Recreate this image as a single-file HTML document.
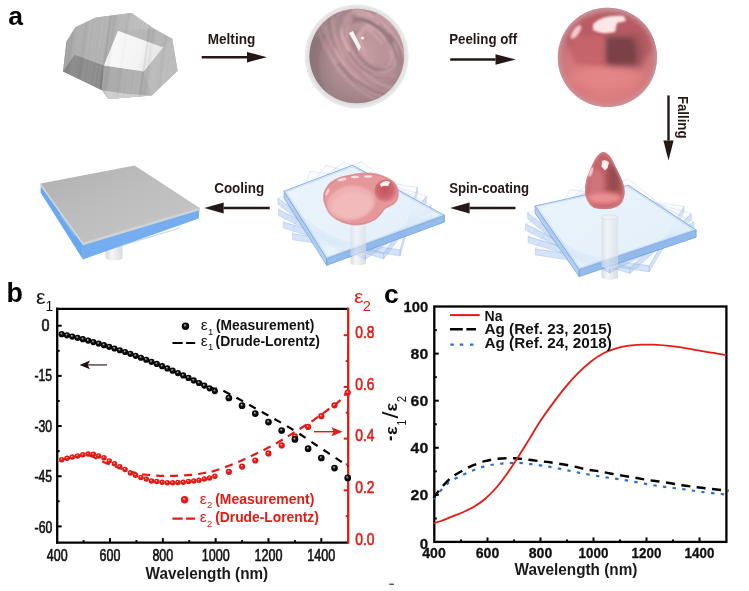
<!DOCTYPE html>
<html><head><meta charset="utf-8"><title>Figure</title>
<style>html,body{margin:0;padding:0;background:#fff;}svg{display:block;}</style>
</head><body>
<svg width="749" height="591" viewBox="0 0 749 591" font-family="'Liberation Sans', Arial, sans-serif">
<defs><pattern id="streak" width="40" height="60" patternUnits="userSpaceOnUse" patternTransform="rotate(8)">
<rect x="0.00" width="1.54" height="60" fill="#ffffff" fill-opacity="0.087"/>
<rect x="1.95" width="2.98" height="60" fill="#ffffff" fill-opacity="0.084"/>
<rect x="5.35" width="2.07" height="60" fill="#ffffff" fill-opacity="0.050"/>
<rect x="8.65" width="1.30" height="60" fill="#000000" fill-opacity="0.047"/>
<rect x="11.49" width="3.35" height="60" fill="#ffffff" fill-opacity="0.109"/>
<rect x="16.01" width="3.43" height="60" fill="#ffffff" fill-opacity="0.107"/>
<rect x="20.03" width="1.82" height="60" fill="#ffffff" fill-opacity="0.109"/>
<rect x="23.38" width="2.58" height="60" fill="#ffffff" fill-opacity="0.110"/>
<rect x="27.66" width="1.68" height="60" fill="#ffffff" fill-opacity="0.108"/>
<rect x="31.01" width="2.04" height="60" fill="#000000" fill-opacity="0.133"/>
<rect x="34.37" width="3.28" height="60" fill="#000000" fill-opacity="0.076"/>
<rect x="39.70" width="2.63" height="60" fill="#ffffff" fill-opacity="0.050"/>
</pattern>
<filter id="b1" x="-20%" y="-20%" width="140%" height="140%"><feGaussianBlur stdDeviation="1"/></filter>
<filter id="b2" x="-30%" y="-30%" width="160%" height="160%"><feGaussianBlur stdDeviation="2.2"/></filter>
<filter id="b3" x="-40%" y="-40%" width="180%" height="180%"><feGaussianBlur stdDeviation="3.5"/></filter>
<filter id="b05"><feGaussianBlur stdDeviation="0.5"/></filter>
<linearGradient id="topG" x1="0" y1="0" x2="1" y2="0">
  <stop offset="0" stop-color="#a9a9a9"/><stop offset="0.6" stop-color="#b4b4b4"/><stop offset="1" stop-color="#c0c0c0"/>
</linearGradient>
<linearGradient id="frontG" x1="0" y1="0" x2="1" y2="0">
  <stop offset="0" stop-color="#a6a6a6"/><stop offset="1" stop-color="#b2b2b2"/>
</linearGradient>
<linearGradient id="whiteFace" x1="0" y1="0" x2="1" y2="0.3">
  <stop offset="0" stop-color="#fbfbfb"/><stop offset="0.7" stop-color="#f3f3f3"/><stop offset="1" stop-color="#e6e6e6"/>
</linearGradient>
<radialGradient id="ringG" cx="0.5" cy="0.5" r="0.5">
  <stop offset="0.88" stop-color="#d4d4d4"/><stop offset="0.94" stop-color="#e2e2e2"/><stop offset="1" stop-color="#ececec"/>
</radialGradient>
<radialGradient id="mauveG" cx="0.6" cy="0.45" r="0.65">
  <stop offset="0" stop-color="#c89ea3"/><stop offset="0.5" stop-color="#b59195"/><stop offset="0.85" stop-color="#a08387"/><stop offset="1" stop-color="#978084"/>
</radialGradient>
<radialGradient id="pinkBase" cx="0.5" cy="0.62" r="0.6">
  <stop offset="0" stop-color="#e6878a"/><stop offset="0.55" stop-color="#da7b7f"/><stop offset="0.85" stop-color="#c8747a"/><stop offset="1" stop-color="#bf8086"/>
</radialGradient>
<clipPath id="clipPink"><circle cx="607.4" cy="57.4" r="49.6"/></clipPath>
<linearGradient id="mauveShade" x1="0" y1="0" x2="1" y2="0.3">
  <stop offset="0" stop-color="#7d666a" stop-opacity="0.45"/><stop offset="0.45" stop-color="#7d666a" stop-opacity="0"/><stop offset="1" stop-color="#7d666a" stop-opacity="0.1"/>
</linearGradient>
<clipPath id="clipMauve"><circle cx="356.8" cy="56" r="47.3"/></clipPath>
<linearGradient id="pillarG" x1="0" y1="0" x2="1" y2="0">
  <stop offset="0" stop-color="#d7dadd"/><stop offset="0.35" stop-color="#f5f6f7"/><stop offset="1" stop-color="#d9dcdf"/>
</linearGradient>
<linearGradient id="grayTop" x1="0" y1="0" x2="1" y2="1">
  <stop offset="0" stop-color="#b0b0b0"/><stop offset="0.45" stop-color="#bdbdbd"/><stop offset="1" stop-color="#c8c8c8"/>
</linearGradient>
<linearGradient id="plateTop" x1="0" y1="0" x2="1" y2="1">
  <stop offset="0" stop-color="#eaf4fc"/><stop offset="1" stop-color="#dfedf9"/>
</linearGradient>
<radialGradient id="blobG" cx="0.42" cy="0.6" r="0.6">
  <stop offset="0" stop-color="#f3b9b9"/><stop offset="0.6" stop-color="#eda9aa"/><stop offset="1" stop-color="#dc8e92"/>
</radialGradient>
<radialGradient id="smallSph" cx="0.45" cy="0.45" r="0.55">
  <stop offset="0" stop-color="#c2525a"/><stop offset="0.65" stop-color="#d06870"/><stop offset="1" stop-color="#e19096"/>
</radialGradient>
<clipPath id="clipDrop"><path d="M603.40,152.10 C604.97,152.10 606.72,153.38 608.10,154.50 C609.48,155.62 610.52,156.83 611.70,158.80 C612.88,160.77 614.02,163.87 615.20,166.30 C616.38,168.73 617.62,170.95 618.80,173.40 C619.98,175.85 621.35,178.23 622.30,181.00 C623.25,183.77 624.23,187.28 624.50,190.00 C624.77,192.72 624.58,194.92 623.90,197.30 C623.22,199.68 622.30,202.47 620.40,204.30 C618.50,206.13 615.30,207.52 612.50,208.30 C609.70,209.08 606.47,209.00 603.60,209.00 C600.73,209.00 597.57,209.07 595.30,208.30 C593.03,207.53 591.57,206.23 590.00,204.40 C588.43,202.57 586.72,199.70 585.90,197.30 C585.08,194.90 585.05,192.80 585.10,190.00 C585.15,187.20 585.62,183.27 586.20,180.50 C586.78,177.73 587.70,175.77 588.60,173.40 C589.50,171.03 590.52,168.67 591.60,166.30 C592.68,163.93 593.92,161.17 595.10,159.20 C596.28,157.23 597.32,155.68 598.70,154.50 C600.08,153.32 601.83,152.10 603.40,152.10 Z"/></clipPath>

<radialGradient id="ballK" cx="0.5" cy="0.5" r="0.5" fx="0.4" fy="0.34"><stop offset="0" stop-color="#cfcfcf"/><stop offset="0.2" stop-color="#7a7a7a"/><stop offset="0.42" stop-color="#111"/><stop offset="1" stop-color="#000"/></radialGradient>
<radialGradient id="ballR" cx="0.5" cy="0.5" r="0.5" fx="0.4" fy="0.34"><stop offset="0" stop-color="#fbe0de"/><stop offset="0.2" stop-color="#f07a72"/><stop offset="0.44" stop-color="#e41a14"/><stop offset="1" stop-color="#dc1812"/></radialGradient>
</defs>
<rect width="749" height="591" fill="#fff"/>
<text x="8.3" y="25.2" font-size="26.5" font-weight="bold" fill="#000">a</text>
<g><polygon points="75.40,27.20 95.90,17.40 131.40,13.00 154.50,29.00 172.20,38.70 177.60,70.70 151.80,95.60 108.30,99.10 102.00,90.30 63.00,71.60 66.50,41.40" fill="#b2b2b2"/>
<polygon points="75.40,27.20 95.90,17.40 131.40,13.00 154.50,29.00 118.00,30.80 103.80,65.40 74.50,54.70 63.00,71.60 66.50,41.40" fill="url(#topG)"/>
<polygon points="63.00,71.60 74.50,54.70 103.80,65.40 102.00,90.30" fill="#898989"/>
<polygon points="103.80,65.40 143.80,71.60 151.80,95.60 108.30,99.10 102.00,90.30" fill="url(#frontG)"/>
<polygon points="143.80,71.60 163.30,47.60 172.20,38.70 177.60,70.70 151.80,95.60" fill="#b9b9b9"/>
<polygon points="118.00,30.80 154.50,29.00 172.20,38.70 163.30,47.60" fill="#b4b4b4"/>
<polygon points="102.00,90.30 108.30,99.10 151.80,95.60 128.00,94.00" fill="#cdcdcd"/>
<polygon points="118.00,30.80 163.30,47.60 143.80,71.60 103.80,65.40" fill="url(#whiteFace)"/>
<polygon points="75.40,27.20 95.90,17.40 131.40,13.00 154.50,29.00 172.20,38.70 177.60,70.70 151.80,95.60 108.30,99.10 102.00,90.30 63.00,71.60 66.50,41.40" fill="url(#streak)" opacity="0.55"/></g>
<circle cx="356.7" cy="56.4" r="52" fill="url(#ringG)"/>
<circle cx="356.8" cy="56" r="47.3" fill="url(#mauveG)"/>
<g clip-path="url(#clipMauve)"><g filter="url(#b1)">
<path d="M312,40 C305,60 310,85 330,100 C318,80 316,60 325,35 Z" fill="#8c7478" opacity="0.6"/>
<path d="M403.6,37.3 A48.9,31.1 50 0 1 386.3,88.4" fill="none" stroke="#c79aa0" stroke-width="1.9" opacity="0.71"/>
<path d="M342.1,71.6 A61.1,39.3 50 0 1 325.1,41.0" fill="none" stroke="#d09ea5" stroke-width="1.2" opacity="0.69"/>
<path d="M361.6,22.3 A27.8,16.3 50 0 1 373.0,25.8" fill="none" stroke="#d09ea5" stroke-width="1.6" opacity="0.57"/>
<path d="M401.2,27.6 A62.6,34.3 50 0 1 418.0,60.0" fill="none" stroke="#9e8086" stroke-width="1.9" opacity="0.55"/>
<path d="M367.3,54.6 A14.1,9.4 50 0 1 361.0,45.3" fill="none" stroke="#d09ea5" stroke-width="2.2" opacity="0.62"/>
<path d="M380.2,0.3 A67.8,39.7 50 0 1 415.7,40.2" fill="none" stroke="#c79aa0" stroke-width="1.3" opacity="0.89"/>
<path d="M346.1,27.9 A35.5,16.1 50 0 1 377.7,28.6" fill="none" stroke="#917479" stroke-width="1.1" opacity="0.62"/>
<path d="M373.4,17.5 A47.8,21.5 50 0 1 402.0,53.0" fill="none" stroke="#917479" stroke-width="1.5" opacity="0.62"/>
<path d="M335.0,8.9 A53.0,26.3 50 0 1 355.1,2.9" fill="none" stroke="#917479" stroke-width="2.4" opacity="0.51"/>
<path d="M404.5,91.3 A56.0,37.0 50 0 1 338.1,62.4" fill="none" stroke="#917479" stroke-width="1.5" opacity="0.84"/>
<path d="M367.2,13.4 A39.4,24.7 50 0 1 403.3,64.6" fill="none" stroke="#dcb0b6" stroke-width="2.1" opacity="0.87"/>
<path d="M324.1,32.9 A66.8,35.8 50 0 1 340.8,-9.9" fill="none" stroke="#e3bcc1" stroke-width="1.2" opacity="0.80"/>
<path d="M401.9,95.5 A58.6,39.0 50 0 1 327.6,46.3" fill="none" stroke="#dcb0b6" stroke-width="1.3" opacity="0.71"/>
<path d="M355.8,52.4 A34.3,16.7 50 0 1 351.3,18.8" fill="none" stroke="#dcb0b6" stroke-width="1.4" opacity="0.63"/>
<path d="M374.2,62.7 A23.9,11.2 50 0 1 354.8,37.0" fill="none" stroke="#e3bcc1" stroke-width="1.2" opacity="0.52"/>
<path d="M317.8,16.4 A69.3,40.4 50 0 1 337.1,-12.0" fill="none" stroke="#9e8086" stroke-width="1.5" opacity="0.60"/>
<path d="M406.6,82.2 A50.5,24.5 50 0 1 363.2,72.1" fill="none" stroke="#e3bcc1" stroke-width="1.5" opacity="0.58"/>
<path d="M378.6,100.9 A69.0,40.8 50 0 1 318.0,13.8" fill="none" stroke="#e3bcc1" stroke-width="1.1" opacity="0.67"/>
<path d="M357.1,50.4 A22.4,14.8 50 0 1 356.3,30.3" fill="none" stroke="#9e8086" stroke-width="2.2" opacity="0.89"/>
<path d="M385.9,27.8 A39.4,22.5 50 0 1 402.5,65.3" fill="none" stroke="#917479" stroke-width="1.7" opacity="0.86"/>
<path d="M361.2,29.1 A20.3,13.3 50 0 1 373.1,30.2" fill="none" stroke="#e3bcc1" stroke-width="2.2" opacity="0.57"/>
<path d="M352.0,11.0 A41.5,24.0 50 0 1 389.3,29.2" fill="none" stroke="#dcb0b6" stroke-width="2.1" opacity="0.81"/>
<path d="M399.0,27.5 A52.9,32.6 50 0 1 413.7,72.3" fill="none" stroke="#c79aa0" stroke-width="1.9" opacity="0.83"/>
<path d="M383.1,28.7 A28.8,20.0 50 0 1 389.3,69.0" fill="none" stroke="#917479" stroke-width="1.9" opacity="0.73"/>
<path d="M365.4,51.5 A14.6,8.6 50 0 1 361.9,35.4" fill="none" stroke="#e3bcc1" stroke-width="1.4" opacity="0.70"/>
<path d="M345.9,57.8 A51.7,27.9 50 0 1 333.0,17.0" fill="none" stroke="#e3bcc1" stroke-width="1.5" opacity="0.84"/>
<path d="M416.3,89.8 A62.7,39.0 50 0 1 336.8,64.2" fill="none" stroke="#9e8086" stroke-width="1.2" opacity="0.89"/>
<path d="M390.1,50.8 A25.1,13.6 50 0 1 388.1,65.2" fill="none" stroke="#dcb0b6" stroke-width="2.0" opacity="0.79"/>
<path d="M364.4,25.4 A23.6,15.2 50 0 1 388.6,43.8" fill="none" stroke="#e3bcc1" stroke-width="1.4" opacity="0.72"/>
<path d="M412.8,93.4 A62.6,32.4 50 0 1 383.5,94.9" fill="none" stroke="#9e8086" stroke-width="1.6" opacity="0.76"/>
<path d="M369.7,24.6 A26.3,16.3 50 0 1 381.5,32.3" fill="none" stroke="#e3bcc1" stroke-width="2.4" opacity="0.57"/>
<path d="M416.9,90.1 A63.9,30.5 50 0 1 374.7,89.1" fill="none" stroke="#9e8086" stroke-width="1.0" opacity="0.69"/>
<path d="M361.6,15.8 A35.3,21.3 50 0 1 384.8,28.5" fill="none" stroke="#917479" stroke-width="1.0" opacity="0.66"/>
<path d="M378.0,70.0 A29.6,16.4 50 0 1 349.5,36.2" fill="none" stroke="#917479" stroke-width="2.4" opacity="0.72"/>
<path d="M353.2,21.6 A30.9,16.2 50 0 1 390.6,44.6" fill="none" stroke="#917479" stroke-width="2.3" opacity="0.83"/>
<path d="M371.5,15.8 A37.5,24.5 50 0 1 398.1,41.5" fill="none" stroke="#d09ea5" stroke-width="1.2" opacity="0.65"/>
<path d="M378.0,76.6 A40.7,20.3 50 0 1 358.7,61.7" fill="none" stroke="#c79aa0" stroke-width="1.0" opacity="0.54"/>
<path d="M374.3,81.9 A45.7,27.6 50 0 1 336.8,36.4" fill="none" stroke="#9e8086" stroke-width="1.5" opacity="0.67"/>
<path d="M390.7,64.6 A26.7,13.9 50 0 1 374.7,65.9" fill="none" stroke="#d09ea5" stroke-width="1.8" opacity="0.60"/>
<path d="M318.4,13.3 A68.9,39.6 50 0 1 344.7,-12.6" fill="none" stroke="#917479" stroke-width="1.7" opacity="0.61"/>
<path d="M363.5,14.8 A40.7,19.6 50 0 1 394.8,44.4" fill="none" stroke="#917479" stroke-width="1.1" opacity="0.55"/>
<path d="M356.3,15.5 A36.0,20.5 50 0 1 379.4,24.6" fill="none" stroke="#e3bcc1" stroke-width="2.1" opacity="0.60"/>
<path d="M391.4,67.5 A29.0,14.2 50 0 1 375.9,67.4" fill="none" stroke="#9e8086" stroke-width="2.4" opacity="0.71"/>
<path d="M423.3,67.3 A62.4,41.8 50 0 1 415.4,90.4" fill="none" stroke="#d09ea5" stroke-width="1.4" opacity="0.71"/>
<path d="M353.7,19.2 A32.8,17.2 50 0 1 380.5,29.9" fill="none" stroke="#917479" stroke-width="2.0" opacity="0.83"/>
<path d="M361.4,28.5 A21.4,9.7 50 0 1 382.5,44.0" fill="none" stroke="#dcb0b6" stroke-width="2.2" opacity="0.72"/>
<path d="M360.2,38.5 A14.8,9.5 50 0 1 371.5,34.0" fill="none" stroke="#c79aa0" stroke-width="2.3" opacity="0.76"/>
<path d="M327.8,3.0 A62.1,41.0 50 0 1 392.7,8.8" fill="none" stroke="#c79aa0" stroke-width="1.3" opacity="0.62"/>
<path d="M410.6,54.4 A60.5,28.2 50 0 1 397.1,95.5" fill="none" stroke="#e3bcc1" stroke-width="1.8" opacity="0.76"/>
<path d="M371.1,73.5 A40.5,21.4 50 0 1 341.3,28.4" fill="none" stroke="#e3bcc1" stroke-width="2.4" opacity="0.72"/>
<path d="M390.1,77.9 A37.8,22.1 50 0 1 349.0,51.6" fill="none" stroke="#917479" stroke-width="2.1" opacity="0.82"/>
<path d="M384.0,24.5 A51.2,23.3 50 0 1 401.9,87.0" fill="none" stroke="#e3bcc1" stroke-width="2.0" opacity="0.52"/>
<path d="M366.8,1.7 A61.2,30.9 50 0 1 417.2,82.4" fill="none" stroke="#c79aa0" stroke-width="2.3" opacity="0.90"/>
<path d="M365.1,80.3 A53.5,29.9 50 0 1 338.4,49.5" fill="none" stroke="#d09ea5" stroke-width="1.1" opacity="0.59"/>
<path d="M392.4,27.2 A45.1,27.7 50 0 1 407.9,61.5" fill="none" stroke="#9e8086" stroke-width="1.8" opacity="0.80"/>
<path d="M325.3,10.2 A63.2,30.6 50 0 1 348.9,-5.7" fill="none" stroke="#9e8086" stroke-width="1.7" opacity="0.64"/>
<path d="M372.9,88.0 A50.7,34.4 50 0 1 338.8,58.6" fill="none" stroke="#9e8086" stroke-width="1.9" opacity="0.70"/>
<path d="M361.9,-7.0 A65.0,38.3 50 0 1 404.5,25.5" fill="none" stroke="#9e8086" stroke-width="1.3" opacity="0.83"/>
<path d="M393.7,41.7 A29.9,20.7 50 0 1 380.7,72.5" fill="none" stroke="#e3bcc1" stroke-width="2.0" opacity="0.57"/>
<path d="M388.9,92.4 A53.9,33.1 50 0 1 334.7,48.5" fill="none" stroke="#dcb0b6" stroke-width="2.2" opacity="0.70"/>
<path d="M343.5,19.9 A39.4,21.6 50 0 1 390.1,34.1" fill="none" stroke="#dcb0b6" stroke-width="2.1" opacity="0.51"/>
<path d="M376.7,83.6 A54.6,25.3 50 0 1 332.4,12.0" fill="none" stroke="#c79aa0" stroke-width="2.1" opacity="0.80"/>
<path d="M359.5,32.1 A18.7,12.7 50 0 1 370.1,30.0" fill="none" stroke="#c79aa0" stroke-width="1.9" opacity="0.64"/>
<path d="M366.1,24.2 A27.2,14.5 50 0 1 385.6,40.0" fill="none" stroke="#e3bcc1" stroke-width="1.5" opacity="0.79"/>
<path d="M367.2,19.9 A34.1,17.8 50 0 1 397.7,64.5" fill="none" stroke="#917479" stroke-width="1.7" opacity="0.74"/>
<path d="M334.8,29.5 A46.1,29.3 50 0 1 342.4,10.6" fill="none" stroke="#dcb0b6" stroke-width="1.3" opacity="0.58"/>
<path d="M376.3,13.7 A41.4,28.4 50 0 1 403.2,43.5" fill="none" stroke="#e3bcc1" stroke-width="1.7" opacity="0.86"/>
<path d="M337.0,13.3 A48.7,27.1 50 0 1 352.7,4.8" fill="none" stroke="#d09ea5" stroke-width="1.9" opacity="0.53"/>
<path d="M326.4,4.0 A62.7,41.8 50 0 1 382.5,0.4" fill="none" stroke="#dcb0b6" stroke-width="1.4" opacity="0.56"/>
<path d="M351.5,24.2 A30.1,15.3 50 0 1 359.8,21.0" fill="none" stroke="#917479" stroke-width="1.4" opacity="0.52"/>
<path d="M383.0,48.3 A15.2,8.6 50 0 1 382.9,56.3" fill="none" stroke="#c79aa0" stroke-width="1.5" opacity="0.68"/>
<path d="M386.2,69.1 A27.4,19.2 50 0 1 354.7,54.8" fill="none" stroke="#9e8086" stroke-width="1.3" opacity="0.53"/>
<path d="M342.0,39.9 A36.5,25.3 50 0 1 350.7,16.5" fill="none" stroke="#e3bcc1" stroke-width="1.5" opacity="0.53"/>
<path d="M409.1,29.6 A69.6,39.5 50 0 1 426.0,73.7" fill="none" stroke="#d09ea5" stroke-width="2.3" opacity="0.76"/>
<path d="M395.7,75.8 A38.1,26.4 50 0 1 379.3,79.5" fill="none" stroke="#c79aa0" stroke-width="1.6" opacity="0.52"/>
<path d="M346.3,9.6 A44.7,31.2 50 0 1 381.4,13.3" fill="none" stroke="#dcb0b6" stroke-width="2.0" opacity="0.59"/>
<path d="M330.9,4.8 A59.0,27.9 50 0 1 382.3,16.5" fill="none" stroke="#c79aa0" stroke-width="1.1" opacity="0.66"/>
<path d="M358.9,38.0 A17.4,8.9 50 0 1 364.1,31.5" fill="none" stroke="#dcb0b6" stroke-width="2.2" opacity="0.88"/>
<path d="M371.0,26.2 A24.9,15.5 50 0 1 385.4,37.9" fill="none" stroke="#d09ea5" stroke-width="1.1" opacity="0.63"/>
<path d="M387.6,55.9 A20.0,11.7 50 0 1 373.5,61.7" fill="none" stroke="#c79aa0" stroke-width="1.3" opacity="0.51"/>
<path d="M354.8,8.4 A44.2,25.3 50 0 1 389.3,27.3" fill="none" stroke="#c79aa0" stroke-width="1.2" opacity="0.50"/>
<path d="M417.0,65.3 A56.3,35.1 50 0 1 358.5,81.4" fill="none" stroke="#9e8086" stroke-width="1.2" opacity="0.62"/>
<path d="M385.6,45.0 A18.9,12.2 50 0 1 385.6,58.9" fill="none" stroke="#d09ea5" stroke-width="1.8" opacity="0.69"/>
<path d="M410.7,81.3 A53.0,34.5 50 0 1 357.6,79.8" fill="none" stroke="#917479" stroke-width="1.1" opacity="0.78"/>
<path d="M363.4,48.4 A16.7,8.3 50 0 1 359.9,35.4" fill="none" stroke="#dcb0b6" stroke-width="1.1" opacity="0.81"/>
<path d="M394.7,73.0 A35.3,22.7 50 0 1 371.8,73.9" fill="none" stroke="#d09ea5" stroke-width="1.8" opacity="0.68"/>
<path d="M416.7,83.3 A59.7,36.7 50 0 1 357.2,82.6" fill="none" stroke="#c79aa0" stroke-width="1.6" opacity="0.54"/>
<path d="M331.5,46.6 A59.1,34.9 50 0 1 330.0,5.2" fill="none" stroke="#d09ea5" stroke-width="1.4" opacity="0.77"/>
<path d="M384.3,39.0 A30.0,14.0 50 0 1 392.9,67.0" fill="none" stroke="#dcb0b6" stroke-width="1.2" opacity="0.89"/>
<path d="M344.2,65.3 A60.3,33.7 50 0 1 343.8,-4.7" fill="none" stroke="#dcb0b6" stroke-width="1.3" opacity="0.67"/>
</g>
<circle cx="356.8" cy="56" r="47.3" fill="url(#mauveShade)"/>
<path d="M349,33 l4,-2 l8,16 l-2,4 z" fill="#f4f4f4" filter="url(#b05)"/>
<circle cx="362.5" cy="38" r="1.5" fill="#f4f4f4"/>
</g>
<circle cx="607.4" cy="57.4" r="49.6" fill="url(#pinkBase)"/>
<g clip-path="url(#clipPink)">
<ellipse cx="612" cy="38" rx="46" ry="27" fill="#b5575e" opacity="0.8" filter="url(#b3)"/>
<rect x="572" y="36" width="36" height="29" rx="8" fill="#c7656a" opacity="0.9" filter="url(#b2)"/>
<path d="M606,35 L638,34 Q648,50 642,68 L606,66 Z" fill="#9a525a" filter="url(#b3)"/>
<path d="M607,38 L632,38 Q639,52 634,64 L607,63 Z" fill="#7c3f46" filter="url(#b2)"/>
<ellipse cx="604" cy="79" rx="38" ry="9" fill="#e48688" opacity="0.7" filter="url(#b3)"/>
<circle cx="607.4" cy="57.4" r="50.5" fill="none" stroke="#cc9ca0" stroke-width="8" opacity="0.7" filter="url(#b2)"/>
<path d="M593,24 Q603,14 624,16 L626,21 L617,23 L615,32 Q602,35 593,30 Z" fill="#fbe7e8" filter="url(#b1)"/>
<ellipse cx="576" cy="32" rx="3.2" ry="8" transform="rotate(35 576 32)" fill="#f3c9cb" filter="url(#b1)"/>
</g>
<path d="M105.7,245.0 V258.0 A8.4,2.5 0 0 0 122.5,258.0 V245.0 Z" fill="url(#pillarG)" opacity="1.00"/><ellipse cx="114.1" cy="245.0" rx="8.4" ry="2.5" fill="#eef0f1" stroke="#c4c8cc" stroke-width="0.6" opacity="1.00"/>
<polygon points="40.70,183.60 82.90,242.50 82.90,259.40 40.70,192.80" fill="#69a7ee"/>
<polygon points="82.90,242.50 199.50,207.70 198.80,218.50 82.90,259.40" fill="#74aef0"/>
<path d="M60,214 L75,236" stroke="#9cc3f0" stroke-width="1.5" opacity="0.7"/>
<path d="M120,246 L180,228" stroke="#8fbdf0" stroke-width="1.2" opacity="0.6"/>
<polygon points="40.70,183.60 82.90,242.50 82.90,245.30 40.70,186.20" fill="#d8d8d8"/>
<polygon points="82.90,242.50 199.50,207.70 199.50,210.30 82.90,245.30" fill="#d2d2d2"/>
<polygon points="40.70,183.60 134.60,165.60 199.50,207.70 82.90,242.50" fill="url(#grayTop)"/>
<path d="M350.5,222.0 V263.0 A7.8,2.5 0 0 0 366.0,263.0 V222.0 Z" fill="url(#pillarG)" opacity="1.00"/><ellipse cx="358.2" cy="222.0" rx="7.8" ry="2.5" fill="#eef0f1" stroke="#c4c8cc" stroke-width="0.6" opacity="1.00"/>
<polygon points="417.37,187.37 400.11,249.97 400.11,255.97 417.37,193.37" fill="#a0c2ee" fill-opacity="0.45" stroke="#8ab0e3" stroke-opacity="0.5" stroke-width="0.6"/>
<polygon points="292.43,233.78 400.11,249.97 400.11,255.97 292.43,239.78" fill="#a0c2ee" fill-opacity="0.45" stroke="#8ab0e3" stroke-opacity="0.5" stroke-width="0.6"/>
<polygon points="292.43,233.78 309.69,171.18 417.37,187.37 400.11,249.97" fill="#eaf2fb" fill-opacity="0.2" stroke="#a3c2e8" stroke-opacity="0.45" stroke-width="0.7"/>
<polygon points="426.45,196.09 383.65,252.92 383.65,258.92 426.45,202.09" fill="#a0c2ee" fill-opacity="0.45" stroke="#8ab0e3" stroke-opacity="0.5" stroke-width="0.6"/>
<polygon points="283.35,222.06 383.65,252.92 383.65,258.92 283.35,228.06" fill="#a0c2ee" fill-opacity="0.45" stroke="#8ab0e3" stroke-opacity="0.5" stroke-width="0.6"/>
<polygon points="283.35,222.06 326.15,165.23 426.45,196.09 383.65,252.92" fill="#eaf2fb" fill-opacity="0.2" stroke="#a3c2e8" stroke-opacity="0.45" stroke-width="0.7"/>
<polygon points="431.28,205.58 365.49,253.26 365.49,259.26 431.28,211.58" fill="#a0c2ee" fill-opacity="0.45" stroke="#8ab0e3" stroke-opacity="0.5" stroke-width="0.6"/>
<polygon points="278.52,209.57 365.49,253.26 365.49,259.26 278.52,215.57" fill="#a0c2ee" fill-opacity="0.45" stroke="#8ab0e3" stroke-opacity="0.5" stroke-width="0.6"/>
<polygon points="278.52,209.57 344.31,161.89 431.28,205.58 365.49,253.26" fill="#eaf2fb" fill-opacity="0.2" stroke="#a3c2e8" stroke-opacity="0.45" stroke-width="0.7"/>
<polygon points="431.71,214.91 348.03,251.54 348.03,257.54 431.71,220.91" fill="#a0c2ee" fill-opacity="0.45" stroke="#8ab0e3" stroke-opacity="0.5" stroke-width="0.6"/>
<polygon points="278.09,198.24 348.03,251.54 348.03,257.54 278.09,204.24" fill="#a0c2ee" fill-opacity="0.45" stroke="#8ab0e3" stroke-opacity="0.5" stroke-width="0.6"/>
<polygon points="278.09,198.24 361.77,161.61 431.71,214.91 348.03,251.54" fill="#eaf2fb" fill-opacity="0.2" stroke="#a3c2e8" stroke-opacity="0.45" stroke-width="0.7"/>
<polygon points="284.10,191.20 326.70,258.50 326.70,265.30 284.10,198.00" fill="#aecbef" fill-opacity="0.92" stroke="#7fa8de" stroke-width="0.8"/>
<polygon points="326.70,258.50 444.40,215.30 444.40,222.10 326.70,265.30" fill="#8db8ea" fill-opacity="0.95" stroke="#6f9edb" stroke-width="0.8"/>
<polygon points="284.10,191.20 352.40,165.30 444.40,215.30 326.70,258.50" fill="url(#plateTop)" fill-opacity="0.85" stroke="#8fb4e2" stroke-width="1.1"/>
<polygon points="286.47,191.77 352.38,166.78 441.16,215.03 327.58,256.72" fill="none" stroke="#b7d0ee" stroke-width="0.7" opacity="0.8"/>
<path d="M350.5,222.0 V255.0 A7.8,2.5 0 0 0 366.0,255.0 V222.0 Z" fill="url(#pillarG)" opacity="0.60"/><ellipse cx="358.2" cy="222.0" rx="7.8" ry="2.5" fill="#eef0f1" stroke="#c4c8cc" stroke-width="0.6" opacity="0.60"/>
<path d="M324.00,195.00 C324.60,191.38 326.90,187.00 329.40,184.20 C331.90,181.40 335.40,179.70 339.00,178.20 C342.60,176.70 346.58,176.00 351.00,175.20 C355.42,174.40 361.08,173.50 365.50,173.40 C369.92,173.30 373.90,173.80 377.50,174.60 C381.10,175.40 384.30,176.80 387.10,178.20 C389.90,179.60 392.50,180.80 394.30,183.00 C396.10,185.20 397.50,188.58 397.90,191.40 C398.30,194.22 397.70,197.68 396.70,199.90 C395.70,202.12 393.90,203.30 391.90,204.70 C389.90,206.10 386.50,206.90 384.70,208.30 C382.90,209.70 382.70,211.30 381.10,213.10 C379.50,214.90 377.70,217.40 375.10,219.10 C372.50,220.80 369.10,222.40 365.50,223.30 C361.90,224.20 357.52,224.80 353.50,224.50 C349.48,224.20 345.02,223.00 341.40,221.50 C337.78,220.00 334.40,218.10 331.80,215.50 C329.20,212.90 327.10,209.32 325.80,205.90 C324.50,202.48 323.40,198.62 324.00,195.00 Z" fill="#e5979a"/>
<path d="M324.00,195.00 C324.60,191.38 326.90,187.00 329.40,184.20 C331.90,181.40 335.40,179.70 339.00,178.20 C342.60,176.70 346.58,176.00 351.00,175.20 C355.42,174.40 361.08,173.50 365.50,173.40 C369.92,173.30 373.90,173.80 377.50,174.60 C381.10,175.40 384.30,176.80 387.10,178.20 C389.90,179.60 392.50,180.80 394.30,183.00 C396.10,185.20 397.50,188.58 397.90,191.40 C398.30,194.22 397.70,197.68 396.70,199.90 C395.70,202.12 393.90,203.30 391.90,204.70 C389.90,206.10 386.50,206.90 384.70,208.30 C382.90,209.70 382.70,211.30 381.10,213.10 C379.50,214.90 377.70,217.40 375.10,219.10 C372.50,220.80 369.10,222.40 365.50,223.30 C361.90,224.20 357.52,224.80 353.50,224.50 C349.48,224.20 345.02,223.00 341.40,221.50 C337.78,220.00 334.40,218.10 331.80,215.50 C329.20,212.90 327.10,209.32 325.80,205.90 C324.50,202.48 323.40,198.62 324.00,195.00 Z" fill="none" stroke="#d98489" stroke-width="1.6" opacity="0.8"/>
<ellipse cx="351" cy="203" rx="24" ry="17" transform="rotate(-8 351 203)" fill="#efb1b3" filter="url(#b1)"/>
<ellipse cx="352" cy="205" rx="20" ry="13" transform="rotate(-8 352 205)" fill="#f2baba" filter="url(#b1)"/>
<circle cx="386" cy="191" r="11.5" fill="url(#smallSph)"/>
<path d="M380,184 Q385,179 390,182 L388,186 Q384,185 381,187 Z" fill="#fff" opacity="0.9" filter="url(#b05)"/>
<ellipse cx="342" cy="179.5" rx="4.5" ry="1.3" transform="rotate(-12 342 179.5)" fill="#fff" opacity="0.75" filter="url(#b05)"/>
<ellipse cx="355" cy="177" rx="4" ry="1.2" fill="#fff" opacity="0.7" filter="url(#b05)"/>
<ellipse cx="368" cy="176.5" rx="4" ry="1.3" fill="#fff" opacity="0.7" filter="url(#b05)"/>
<ellipse cx="327.5" cy="192" rx="1.2" ry="4" transform="rotate(25 327.5 192)" fill="#fff" opacity="0.6" filter="url(#b05)"/>
<path d="M601.4,217.3 V277.3 A8.4,2.5 0 0 0 618.2,277.3 V217.3 Z" fill="url(#pillarG)" opacity="1.00"/><ellipse cx="609.8" cy="217.3" rx="8.4" ry="2.5" fill="#eef0f1" stroke="#c4c8cc" stroke-width="0.6" opacity="1.00"/>
<polygon points="683.97,206.43 649.18,265.89 649.18,271.89 683.97,212.43" fill="#a0c2ee" fill-opacity="0.45" stroke="#8ab0e3" stroke-opacity="0.5" stroke-width="0.6"/>
<polygon points="535.33,248.92 649.18,265.89 649.18,271.89 535.33,254.92" fill="#a0c2ee" fill-opacity="0.45" stroke="#8ab0e3" stroke-opacity="0.5" stroke-width="0.6"/>
<polygon points="535.33,248.92 570.12,189.46 683.97,206.43 649.18,265.89" fill="#eaf2fb" fill-opacity="0.2" stroke="#a3c2e8" stroke-opacity="0.45" stroke-width="0.7"/>
<polygon points="691.32,213.80 630.02,267.40 630.02,273.40 691.32,219.80" fill="#a0c2ee" fill-opacity="0.45" stroke="#8ab0e3" stroke-opacity="0.5" stroke-width="0.6"/>
<polygon points="527.98,236.55 630.02,267.40 630.02,273.40 527.98,242.55" fill="#a0c2ee" fill-opacity="0.45" stroke="#8ab0e3" stroke-opacity="0.5" stroke-width="0.6"/>
<polygon points="527.98,236.55 589.28,182.95 691.32,213.80 630.02,267.40" fill="#eaf2fb" fill-opacity="0.2" stroke="#a3c2e8" stroke-opacity="0.45" stroke-width="0.7"/>
<polygon points="693.82,222.36 609.66,266.90 609.66,272.90 693.82,228.36" fill="#a0c2ee" fill-opacity="0.45" stroke="#8ab0e3" stroke-opacity="0.5" stroke-width="0.6"/>
<polygon points="525.48,223.99 609.66,266.90 609.66,272.90 525.48,229.99" fill="#a0c2ee" fill-opacity="0.45" stroke="#8ab0e3" stroke-opacity="0.5" stroke-width="0.6"/>
<polygon points="525.48,223.99 609.64,179.45 693.82,222.36 609.66,266.90" fill="#eaf2fb" fill-opacity="0.2" stroke="#a3c2e8" stroke-opacity="0.45" stroke-width="0.7"/>
<polygon points="691.67,230.71 590.73,264.46 590.73,270.46 691.67,236.71" fill="#a0c2ee" fill-opacity="0.45" stroke="#8ab0e3" stroke-opacity="0.5" stroke-width="0.6"/>
<polygon points="527.63,212.64 590.73,264.46 590.73,270.46 527.63,218.64" fill="#a0c2ee" fill-opacity="0.45" stroke="#8ab0e3" stroke-opacity="0.5" stroke-width="0.6"/>
<polygon points="527.63,212.64 628.57,178.89 691.67,230.71 590.73,264.46" fill="#eaf2fb" fill-opacity="0.2" stroke="#a3c2e8" stroke-opacity="0.45" stroke-width="0.7"/>
<polygon points="535.10,206.00 579.10,269.40 579.10,276.60 535.10,213.20" fill="#aecbef" fill-opacity="0.92" stroke="#7fa8de" stroke-width="0.8"/>
<polygon points="579.10,269.40 696.10,230.00 696.10,237.20 579.10,276.60" fill="#8db8ea" fill-opacity="0.95" stroke="#6f9edb" stroke-width="0.8"/>
<polygon points="535.10,206.00 628.30,185.30 696.10,230.00 579.10,269.40" fill="url(#plateTop)" fill-opacity="0.85" stroke="#8fb4e2" stroke-width="1.1"/>
<polygon points="537.71,206.58 627.65,186.61 693.07,229.74 580.17,267.76" fill="none" stroke="#b7d0ee" stroke-width="0.7" opacity="0.8"/>
<path d="M601.4,217.3 V266.0 A8.4,2.5 0 0 0 618.2,266.0 V217.3 Z" fill="url(#pillarG)" opacity="0.60"/><ellipse cx="609.8" cy="217.3" rx="8.4" ry="2.5" fill="#eef0f1" stroke="#c4c8cc" stroke-width="0.6" opacity="0.60"/>
<path d="M603.40,152.10 C604.97,152.10 606.72,153.38 608.10,154.50 C609.48,155.62 610.52,156.83 611.70,158.80 C612.88,160.77 614.02,163.87 615.20,166.30 C616.38,168.73 617.62,170.95 618.80,173.40 C619.98,175.85 621.35,178.23 622.30,181.00 C623.25,183.77 624.23,187.28 624.50,190.00 C624.77,192.72 624.58,194.92 623.90,197.30 C623.22,199.68 622.30,202.47 620.40,204.30 C618.50,206.13 615.30,207.52 612.50,208.30 C609.70,209.08 606.47,209.00 603.60,209.00 C600.73,209.00 597.57,209.07 595.30,208.30 C593.03,207.53 591.57,206.23 590.00,204.40 C588.43,202.57 586.72,199.70 585.90,197.30 C585.08,194.90 585.05,192.80 585.10,190.00 C585.15,187.20 585.62,183.27 586.20,180.50 C586.78,177.73 587.70,175.77 588.60,173.40 C589.50,171.03 590.52,168.67 591.60,166.30 C592.68,163.93 593.92,161.17 595.10,159.20 C596.28,157.23 597.32,155.68 598.70,154.50 C600.08,153.32 601.83,152.10 603.40,152.10 Z" fill="#c5646a"/>
<g clip-path="url(#clipDrop)">
<rect x="606.5" y="164" width="14" height="30" rx="5" fill="#95484f" filter="url(#b3)"/>
<ellipse cx="596" cy="183" rx="8" ry="13" fill="#d0737a" filter="url(#b2)"/>
<ellipse cx="604" cy="198" rx="17" ry="5.5" fill="#ec8f92" filter="url(#b2)"/>
<path d="M603.40,152.10 C604.97,152.10 606.72,153.38 608.10,154.50 C609.48,155.62 610.52,156.83 611.70,158.80 C612.88,160.77 614.02,163.87 615.20,166.30 C616.38,168.73 617.62,170.95 618.80,173.40 C619.98,175.85 621.35,178.23 622.30,181.00 C623.25,183.77 624.23,187.28 624.50,190.00 C624.77,192.72 624.58,194.92 623.90,197.30 C623.22,199.68 622.30,202.47 620.40,204.30 C618.50,206.13 615.30,207.52 612.50,208.30 C609.70,209.08 606.47,209.00 603.60,209.00 C600.73,209.00 597.57,209.07 595.30,208.30 C593.03,207.53 591.57,206.23 590.00,204.40 C588.43,202.57 586.72,199.70 585.90,197.30 C585.08,194.90 585.05,192.80 585.10,190.00 C585.15,187.20 585.62,183.27 586.20,180.50 C586.78,177.73 587.70,175.77 588.60,173.40 C589.50,171.03 590.52,168.67 591.60,166.30 C592.68,163.93 593.92,161.17 595.10,159.20 C596.28,157.23 597.32,155.68 598.70,154.50 C600.08,153.32 601.83,152.10 603.40,152.10 Z" fill="none" stroke="#d79a9e" stroke-width="3" opacity="0.6" filter="url(#b1)"/>
<path d="M602,161 Q605.5,159 609,162.5 L607.5,168 L605,170.5 L601.5,166.5 Z" fill="#fff0f0" filter="url(#b05)"/>
<ellipse cx="591" cy="172" rx="1.6" ry="5" transform="rotate(20 591 172)" fill="#f5c8ca" filter="url(#b05)"/>
</g>
<text x="207.80" y="43.80" font-size="14.00" font-weight="bold" fill="#231815" textLength="47.40" lengthAdjust="spacingAndGlyphs">Melting</text>
<path d="M201.70,57.20 H247.00" stroke="#231815" stroke-width="2.40"/><polygon points="247.00,51.95 266.90,57.20 247.00,62.45" fill="#231815"/>
<text x="449.20" y="43.80" font-size="14.00" font-weight="bold" fill="#231815" textLength="68.00" lengthAdjust="spacingAndGlyphs">Peeling off</text>
<path d="M450.20,59.50 H495.50" stroke="#231815" stroke-width="2.40"/><polygon points="495.50,54.25 515.70,59.50 495.50,64.75" fill="#231815"/>
<path d="M668.50,95.40 V140.60" stroke="#231815" stroke-width="2.40"/><polygon points="663.40,140.60 668.50,160.40 673.60,140.60" fill="#231815"/>
<g transform="translate(678.3,95.9) rotate(90)"><text x="0.00" y="0.00" font-size="14.00" font-weight="bold" fill="#231815" textLength="42.60" lengthAdjust="spacingAndGlyphs">Falling</text></g>
<text x="449.20" y="192.80" font-size="14.00" font-weight="bold" fill="#231815" textLength="80.00" lengthAdjust="spacingAndGlyphs">Spin-coating</text>
<path d="M515.40,208.00 H469.60" stroke="#231815" stroke-width="2.40"/><polygon points="469.60,202.50 450.00,208.00 469.60,213.50" fill="#231815"/>
<text x="214.20" y="193.00" font-size="14.00" font-weight="bold" fill="#231815" textLength="50.00" lengthAdjust="spacingAndGlyphs">Cooling</text>
<path d="M269.80,208.00 H223.70" stroke="#231815" stroke-width="2.40"/><polygon points="223.70,202.60 204.30,208.00 223.70,213.40" fill="#231815"/>
<text x="6.4" y="301.6" font-size="26.8" font-weight="bold" fill="#000">b</text>
<text x="384.0" y="302.8" font-size="26.5" font-weight="bold" fill="#000">c</text>
<g stroke-width="2.3" fill="none">
<path d="M56.1,308.8 H348.2" stroke="#000"/>
<path d="M56.1,542.6 H348.2" stroke="#000"/>
<path d="M57.2,307.7 V543.7" stroke="#000"/>
<path d="M348.2,307.7 V543.7" stroke="#e41a14"/>
</g>
<g stroke="#000" stroke-width="2">
<path d="M57.2,325.70 h4.5"/>
<path d="M57.2,350.79 h2.5"/>
<path d="M57.2,375.88 h4.5"/>
<path d="M57.2,400.96 h2.5"/>
<path d="M57.2,426.05 h4.5"/>
<path d="M57.2,451.14 h2.5"/>
<path d="M57.2,476.23 h4.5"/>
<path d="M57.2,501.31 h2.5"/>
<path d="M57.2,526.40 h4.5"/>
<path d="M83.61,542.6 v-2.5"/>
<path d="M110.02,542.6 v-4.5"/>
<path d="M136.43,542.6 v-2.5"/>
<path d="M162.84,542.6 v-4.5"/>
<path d="M189.25,542.6 v-2.5"/>
<path d="M215.66,542.6 v-4.5"/>
<path d="M242.07,542.6 v-2.5"/>
<path d="M268.48,542.6 v-4.5"/>
<path d="M294.89,542.6 v-2.5"/>
<path d="M321.30,542.6 v-4.5"/>
</g>
<g stroke="#e41a14" stroke-width="2">
<path d="M348.2,516.15 h-2.5"/>
<path d="M348.2,490.30 h-4.5"/>
<path d="M348.2,464.45 h-2.5"/>
<path d="M348.2,438.60 h-4.5"/>
<path d="M348.2,412.75 h-2.5"/>
<path d="M348.2,386.90 h-4.5"/>
<path d="M348.2,361.05 h-2.5"/>
<path d="M348.2,335.20 h-4.5"/>
</g>
<text x="41.60" y="331.10" font-size="15.60" font-weight="normal" text-anchor="start" fill="#111" textLength="8.0" lengthAdjust="spacingAndGlyphs" stroke="#111" stroke-width="0.6">0</text>
<text x="34.40" y="381.27" font-size="15.60" font-weight="normal" text-anchor="start" fill="#111" textLength="17.6" lengthAdjust="spacingAndGlyphs" stroke="#111" stroke-width="0.6">-15</text>
<text x="34.40" y="432.25" font-size="15.60" font-weight="normal" text-anchor="start" fill="#111" textLength="17.6" lengthAdjust="spacingAndGlyphs" stroke="#111" stroke-width="0.6">-30</text>
<text x="34.40" y="482.43" font-size="15.60" font-weight="normal" text-anchor="start" fill="#111" textLength="17.6" lengthAdjust="spacingAndGlyphs" stroke="#111" stroke-width="0.6">-45</text>
<text x="34.60" y="532.60" font-size="15.60" font-weight="normal" text-anchor="start" fill="#111" textLength="17.8" lengthAdjust="spacingAndGlyphs" stroke="#111" stroke-width="0.6">-60</text>
<text x="355.30" y="544.70" font-size="16.20" font-weight="normal" text-anchor="start" fill="#e41a14" textLength="19.2" lengthAdjust="spacingAndGlyphs" stroke="#e41a14" stroke-width="0.6">0.0</text>
<text x="355.30" y="493.00" font-size="16.20" font-weight="normal" text-anchor="start" fill="#e41a14" textLength="19.2" lengthAdjust="spacingAndGlyphs" stroke="#e41a14" stroke-width="0.6">0.2</text>
<text x="355.30" y="441.30" font-size="16.20" font-weight="normal" text-anchor="start" fill="#e41a14" textLength="19.2" lengthAdjust="spacingAndGlyphs" stroke="#e41a14" stroke-width="0.6">0.4</text>
<text x="355.30" y="389.60" font-size="16.20" font-weight="normal" text-anchor="start" fill="#e41a14" textLength="19.2" lengthAdjust="spacingAndGlyphs" stroke="#e41a14" stroke-width="0.6">0.6</text>
<text x="355.30" y="337.90" font-size="16.20" font-weight="normal" text-anchor="start" fill="#e41a14" textLength="19.2" lengthAdjust="spacingAndGlyphs" stroke="#e41a14" stroke-width="0.6">0.8</text>
<text x="57.20" y="560.90" font-size="15.60" font-weight="normal" text-anchor="middle" fill="#111" textLength="20.8" lengthAdjust="spacingAndGlyphs" stroke="#111" stroke-width="0.6">400</text>
<text x="110.02" y="560.90" font-size="15.60" font-weight="normal" text-anchor="middle" fill="#111" textLength="20.8" lengthAdjust="spacingAndGlyphs" stroke="#111" stroke-width="0.6">600</text>
<text x="162.84" y="560.90" font-size="15.60" font-weight="normal" text-anchor="middle" fill="#111" textLength="20.8" lengthAdjust="spacingAndGlyphs" stroke="#111" stroke-width="0.6">800</text>
<text x="215.66" y="560.90" font-size="15.60" font-weight="normal" text-anchor="middle" fill="#111" textLength="28.0" lengthAdjust="spacingAndGlyphs" stroke="#111" stroke-width="0.6">1000</text>
<text x="268.48" y="560.90" font-size="15.60" font-weight="normal" text-anchor="middle" fill="#111" textLength="28.0" lengthAdjust="spacingAndGlyphs" stroke="#111" stroke-width="0.6">1200</text>
<text x="321.30" y="560.90" font-size="15.60" font-weight="normal" text-anchor="middle" fill="#111" textLength="28.0" lengthAdjust="spacingAndGlyphs" stroke="#111" stroke-width="0.6">1400</text>
<text x="145.60" y="578.70" font-size="16.00" font-weight="bold" text-anchor="start" fill="#1a1a1a" textLength="122.6" lengthAdjust="spacingAndGlyphs">Wavelength (nm)</text>
<text x="35.90" y="303.80" font-size="19.50" font-weight="normal" text-anchor="start" fill="#111" textLength="9.6" lengthAdjust="spacingAndGlyphs">&#949;</text>
<text x="45.50" y="311.20" font-size="14.00" font-weight="normal" text-anchor="start" fill="#111">1</text>
<text x="353.90" y="303.00" font-size="18.50" font-weight="normal" text-anchor="start" fill="#e41a14" textLength="9.4" lengthAdjust="spacingAndGlyphs">&#949;</text>
<text x="362.80" y="311.20" font-size="14.50" font-weight="normal" text-anchor="start" fill="#e41a14">2</text>
<path d="M59.84,333.73 C60.72,333.93 63.36,334.50 65.12,334.90 C66.88,335.30 68.64,335.71 70.41,336.12 C72.17,336.54 73.93,336.96 75.69,337.40 C77.45,337.83 79.21,338.28 80.97,338.73 C82.73,339.18 84.49,339.65 86.25,340.12 C88.01,340.59 89.77,341.07 91.53,341.56 C93.29,342.05 95.05,342.55 96.81,343.06 C98.58,343.57 100.34,344.09 102.10,344.62 C103.86,345.14 105.62,345.68 107.38,346.22 C109.14,346.77 110.90,347.33 112.66,347.89 C114.42,348.45 116.18,349.03 117.94,349.61 C119.70,350.19 121.46,350.79 123.23,351.39 C124.99,351.99 126.75,352.60 128.51,353.22 C130.27,353.84 132.03,354.47 133.79,355.11 C135.55,355.75 137.31,356.39 139.07,357.05 C140.83,357.71 142.59,358.37 144.35,359.05 C146.11,359.72 147.87,360.41 149.63,361.10 C151.40,361.80 153.16,362.50 154.92,363.21 C156.68,363.92 158.44,364.65 160.20,365.38 C161.96,366.11 163.72,366.85 165.48,367.60 C167.24,368.35 169.00,369.10 170.76,369.87 C172.52,370.64 174.28,371.42 176.05,372.20 C177.81,372.99 179.57,373.79 181.33,374.59 C183.09,375.40 184.85,376.24 186.61,377.03 C188.37,377.82 190.13,378.59 191.89,379.33 C193.65,380.07 195.41,380.76 197.17,381.48 C198.93,382.21 200.69,382.95 202.45,383.69 C204.22,384.44 205.98,385.19 207.74,385.96 C209.50,386.72 210.98,387.72 213.02,388.28 C215.06,388.84 216.60,388.00 220.00,389.30 C223.40,390.60 228.92,393.73 233.40,396.10 C237.88,398.47 242.47,401.03 246.90,403.50 C251.33,405.97 255.63,408.45 260.00,410.90 C264.37,413.35 268.88,415.82 273.10,418.20 C277.32,420.58 281.17,422.77 285.30,425.20 C289.43,427.63 293.70,430.13 297.90,432.80 C302.10,435.47 306.22,438.33 310.50,441.20 C314.78,444.07 319.23,447.10 323.60,450.00 C327.97,452.90 332.60,455.88 336.70,458.60 C340.80,461.32 346.28,465.02 348.20,466.30" fill="none" stroke="#000" stroke-width="2.2" stroke-dasharray="7.5,7"/>
<path d="M62.00,459.70 C63.82,459.28 69.30,457.93 72.90,457.20 C76.50,456.47 80.42,455.43 83.60,455.30 C86.78,455.17 89.27,455.52 92.00,456.40 C94.73,457.28 97.33,459.37 100.00,460.60 C102.67,461.83 105.00,462.67 108.00,463.80 C111.00,464.93 114.00,466.03 118.00,467.40 C122.00,468.77 127.67,470.82 132.00,472.00 C136.33,473.18 139.33,473.87 144.00,474.50 C148.67,475.13 154.83,475.58 160.00,475.80 C165.17,476.02 169.83,475.95 175.00,475.80 C180.17,475.65 186.17,475.37 191.00,474.90 C195.83,474.43 200.22,473.63 204.00,473.00 C207.78,472.37 208.65,472.67 213.70,471.10 C218.75,469.53 228.45,465.93 234.30,463.60 C240.15,461.27 244.05,459.27 248.80,457.10 C253.55,454.93 258.28,452.85 262.80,450.60 C267.32,448.35 271.53,446.10 275.90,443.60 C280.27,441.10 284.78,438.20 289.00,435.60 C293.22,433.00 296.98,430.67 301.20,428.00 C305.42,425.33 310.03,422.50 314.30,419.60 C318.57,416.70 322.53,413.77 326.80,410.60 C331.07,407.43 336.33,403.98 339.90,400.60 C343.47,397.22 346.82,392.02 348.20,390.30" fill="none" stroke="#e41a14" stroke-width="2.2" stroke-dasharray="8,6"/>
<circle cx="61.69" cy="459.70" r="2.75" fill="url(#ballR)"/>
<circle cx="66.97" cy="458.20" r="2.75" fill="url(#ballR)"/>
<circle cx="72.25" cy="457.00" r="2.75" fill="url(#ballR)"/>
<circle cx="77.54" cy="455.90" r="2.75" fill="url(#ballR)"/>
<circle cx="82.82" cy="454.80" r="2.75" fill="url(#ballR)"/>
<circle cx="88.10" cy="454.10" r="2.75" fill="url(#ballR)"/>
<circle cx="93.38" cy="454.30" r="2.75" fill="url(#ballR)"/>
<circle cx="98.66" cy="455.90" r="2.75" fill="url(#ballR)"/>
<circle cx="103.95" cy="457.70" r="2.75" fill="url(#ballR)"/>
<circle cx="109.23" cy="460.90" r="2.75" fill="url(#ballR)"/>
<circle cx="114.51" cy="463.80" r="2.75" fill="url(#ballR)"/>
<circle cx="119.79" cy="466.80" r="2.75" fill="url(#ballR)"/>
<circle cx="125.07" cy="469.50" r="2.75" fill="url(#ballR)"/>
<circle cx="130.36" cy="472.90" r="2.75" fill="url(#ballR)"/>
<circle cx="135.64" cy="475.20" r="2.75" fill="url(#ballR)"/>
<circle cx="140.92" cy="477.40" r="2.75" fill="url(#ballR)"/>
<circle cx="146.20" cy="479.00" r="2.75" fill="url(#ballR)"/>
<circle cx="151.48" cy="480.90" r="2.75" fill="url(#ballR)"/>
<circle cx="156.77" cy="481.50" r="2.75" fill="url(#ballR)"/>
<circle cx="162.05" cy="482.20" r="2.75" fill="url(#ballR)"/>
<circle cx="167.33" cy="482.70" r="2.75" fill="url(#ballR)"/>
<circle cx="172.61" cy="482.70" r="2.75" fill="url(#ballR)"/>
<circle cx="177.89" cy="482.40" r="2.75" fill="url(#ballR)"/>
<circle cx="183.18" cy="482.20" r="2.75" fill="url(#ballR)"/>
<circle cx="188.46" cy="481.50" r="2.75" fill="url(#ballR)"/>
<circle cx="193.74" cy="480.90" r="2.75" fill="url(#ballR)"/>
<circle cx="199.02" cy="480.20" r="2.75" fill="url(#ballR)"/>
<circle cx="204.30" cy="479.00" r="2.75" fill="url(#ballR)"/>
<circle cx="209.59" cy="477.90" r="2.75" fill="url(#ballR)"/>
<circle cx="214.87" cy="476.30" r="2.75" fill="url(#ballR)"/>
<circle cx="228.87" cy="471.80" r="3.10" fill="url(#ballR)"/>
<circle cx="242.07" cy="466.60" r="3.10" fill="url(#ballR)"/>
<circle cx="255.27" cy="460.50" r="3.10" fill="url(#ballR)"/>
<circle cx="268.48" cy="453.40" r="3.10" fill="url(#ballR)"/>
<circle cx="281.69" cy="445.40" r="3.10" fill="url(#ballR)"/>
<circle cx="294.89" cy="436.30" r="3.10" fill="url(#ballR)"/>
<circle cx="308.10" cy="426.90" r="3.10" fill="url(#ballR)"/>
<circle cx="321.30" cy="416.20" r="3.10" fill="url(#ballR)"/>
<circle cx="334.50" cy="405.30" r="3.10" fill="url(#ballR)"/>
<circle cx="347.71" cy="392.70" r="3.10" fill="url(#ballR)"/>
<circle cx="61.69" cy="334.14" r="3.10" fill="url(#ballK)"/>
<circle cx="66.97" cy="335.32" r="3.10" fill="url(#ballK)"/>
<circle cx="72.25" cy="336.56" r="3.10" fill="url(#ballK)"/>
<circle cx="77.54" cy="337.86" r="3.10" fill="url(#ballK)"/>
<circle cx="82.82" cy="339.21" r="3.10" fill="url(#ballK)"/>
<circle cx="88.10" cy="340.62" r="3.10" fill="url(#ballK)"/>
<circle cx="93.38" cy="342.08" r="3.10" fill="url(#ballK)"/>
<circle cx="98.66" cy="343.60" r="3.10" fill="url(#ballK)"/>
<circle cx="103.95" cy="345.17" r="3.10" fill="url(#ballK)"/>
<circle cx="109.23" cy="346.80" r="3.10" fill="url(#ballK)"/>
<circle cx="114.51" cy="348.49" r="3.10" fill="url(#ballK)"/>
<circle cx="119.79" cy="350.23" r="3.10" fill="url(#ballK)"/>
<circle cx="125.07" cy="352.02" r="3.10" fill="url(#ballK)"/>
<circle cx="130.36" cy="353.87" r="3.10" fill="url(#ballK)"/>
<circle cx="135.64" cy="355.78" r="3.10" fill="url(#ballK)"/>
<circle cx="140.92" cy="357.74" r="3.10" fill="url(#ballK)"/>
<circle cx="146.20" cy="359.76" r="3.10" fill="url(#ballK)"/>
<circle cx="151.48" cy="361.83" r="3.10" fill="url(#ballK)"/>
<circle cx="156.77" cy="363.96" r="3.10" fill="url(#ballK)"/>
<circle cx="162.05" cy="366.15" r="3.10" fill="url(#ballK)"/>
<circle cx="167.33" cy="368.39" r="3.10" fill="url(#ballK)"/>
<circle cx="172.61" cy="370.68" r="3.10" fill="url(#ballK)"/>
<circle cx="177.89" cy="373.03" r="3.10" fill="url(#ballK)"/>
<circle cx="183.18" cy="375.44" r="3.10" fill="url(#ballK)"/>
<circle cx="188.46" cy="377.90" r="3.10" fill="url(#ballK)"/>
<circle cx="193.74" cy="380.42" r="3.10" fill="url(#ballK)"/>
<circle cx="199.02" cy="382.99" r="3.10" fill="url(#ballK)"/>
<circle cx="204.30" cy="385.62" r="3.10" fill="url(#ballK)"/>
<circle cx="209.59" cy="388.30" r="3.10" fill="url(#ballK)"/>
<circle cx="214.87" cy="391.04" r="3.10" fill="url(#ballK)"/>
<circle cx="228.87" cy="398.00" r="3.35" fill="url(#ballK)"/>
<circle cx="242.07" cy="405.70" r="3.35" fill="url(#ballK)"/>
<circle cx="255.27" cy="413.60" r="3.35" fill="url(#ballK)"/>
<circle cx="268.48" cy="422.10" r="3.35" fill="url(#ballK)"/>
<circle cx="281.69" cy="430.50" r="3.35" fill="url(#ballK)"/>
<circle cx="294.89" cy="439.40" r="3.35" fill="url(#ballK)"/>
<circle cx="308.10" cy="448.70" r="3.35" fill="url(#ballK)"/>
<circle cx="321.30" cy="458.00" r="3.35" fill="url(#ballK)"/>
<circle cx="334.50" cy="468.10" r="3.35" fill="url(#ballK)"/>
<circle cx="347.71" cy="477.90" r="3.35" fill="url(#ballK)"/>
<path d="M87,364.9 H107" stroke="#6e6262" stroke-width="1.7" fill="none"/>
<path d="M79.6,364.9 L90,360.6 L87.6,364.9 L90,369.3 Z" fill="#1e1414"/>
<path d="M314,431.7 H334" stroke="#e41a14" stroke-width="1.4" fill="none"/>
<path d="M342.6,431.7 L331.4,427.2 L333.6,431.7 L331.4,436.2 Z" fill="#e41a14"/>
<circle cx="185.50" cy="326.20" r="3.70" fill="url(#ballK)"/>
<path d="M172.5,343 H182.7 M186.1,343 H195.2" stroke="#000" stroke-width="2.2"/>
<text x="200.70" y="330.40" font-size="15.50" font-weight="normal" text-anchor="start" fill="#111">&#949;</text>
<text x="208.10" y="334.50" font-size="9.50" font-weight="normal" text-anchor="start" fill="#111">1</text>
<text x="216.00" y="330.40" font-size="15.00" font-weight="bold" text-anchor="start" fill="#111" textLength="98.3" lengthAdjust="spacingAndGlyphs">(Measurement)</text>
<text x="200.70" y="346.30" font-size="15.50" font-weight="normal" text-anchor="start" fill="#111">&#949;</text>
<text x="208.10" y="350.40" font-size="9.50" font-weight="normal" text-anchor="start" fill="#111">1</text>
<text x="215.60" y="346.30" font-size="15.00" font-weight="bold" text-anchor="start" fill="#111" textLength="104.4" lengthAdjust="spacingAndGlyphs">(Drude-Lorentz)</text>
<circle cx="184.60" cy="499.80" r="3.70" fill="url(#ballR)"/>
<path d="M172.5,518.6 H182.7 M186.1,518.6 H195.2" stroke="#e41a14" stroke-width="2.2"/>
<text x="199.70" y="503.80" font-size="15.50" font-weight="normal" text-anchor="start" fill="#e41a14">&#949;</text>
<text x="207.10" y="507.90" font-size="9.50" font-weight="normal" text-anchor="start" fill="#e41a14">2</text>
<text x="215.20" y="503.80" font-size="15.00" font-weight="bold" text-anchor="start" fill="#e41a14" textLength="99.1" lengthAdjust="spacingAndGlyphs">(Measurement)</text>
<text x="199.70" y="522.40" font-size="15.50" font-weight="normal" text-anchor="start" fill="#e41a14">&#949;</text>
<text x="207.10" y="526.50" font-size="9.50" font-weight="normal" text-anchor="start" fill="#e41a14">2</text>
<text x="215.20" y="522.40" font-size="15.00" font-weight="bold" text-anchor="start" fill="#e41a14" textLength="103.7" lengthAdjust="spacingAndGlyphs">(Drude-Lorentz)</text>
<rect x="434.3" y="306.5" width="292.1" height="235.4" fill="none" stroke="#000" stroke-width="2.3"/>
<g stroke="#000" stroke-width="2">
<path d="M434.3,518.45 h2.5"/>
<path d="M434.3,494.90 h4.5"/>
<path d="M434.3,471.35 h2.5"/>
<path d="M434.3,447.80 h4.5"/>
<path d="M434.3,424.25 h2.5"/>
<path d="M434.3,400.70 h4.5"/>
<path d="M434.3,377.15 h2.5"/>
<path d="M434.3,353.60 h4.5"/>
<path d="M434.3,330.05 h2.5"/>
<path d="M461.00,541.9 v-2.5"/>
<path d="M487.50,541.9 v-4.5"/>
<path d="M514.00,541.9 v-2.5"/>
<path d="M540.50,541.9 v-4.5"/>
<path d="M567.00,541.9 v-2.5"/>
<path d="M593.50,541.9 v-4.5"/>
<path d="M620.00,541.9 v-2.5"/>
<path d="M646.50,541.9 v-4.5"/>
<path d="M673.00,541.9 v-2.5"/>
<path d="M699.50,541.9 v-4.5"/>
</g>
<text x="419.80" y="549.00" font-size="15.20" font-weight="bold" text-anchor="start" fill="#111" textLength="8.4" lengthAdjust="spacingAndGlyphs" stroke="#111" stroke-width="0.3">0</text>
<text x="410.60" y="500.10" font-size="15.20" font-weight="bold" text-anchor="start" fill="#111" textLength="17.6" lengthAdjust="spacingAndGlyphs" stroke="#111" stroke-width="0.3">20</text>
<text x="410.60" y="453.00" font-size="15.20" font-weight="bold" text-anchor="start" fill="#111" textLength="17.6" lengthAdjust="spacingAndGlyphs" stroke="#111" stroke-width="0.3">40</text>
<text x="410.60" y="405.90" font-size="15.20" font-weight="bold" text-anchor="start" fill="#111" textLength="17.6" lengthAdjust="spacingAndGlyphs" stroke="#111" stroke-width="0.3">60</text>
<text x="410.60" y="358.80" font-size="15.20" font-weight="bold" text-anchor="start" fill="#111" textLength="17.6" lengthAdjust="spacingAndGlyphs" stroke="#111" stroke-width="0.3">80</text>
<text x="403.60" y="311.70" font-size="15.20" font-weight="bold" text-anchor="start" fill="#111" textLength="24.6" lengthAdjust="spacingAndGlyphs" stroke="#111" stroke-width="0.3">100</text>
<text x="434.00" y="558.00" font-size="15.40" font-weight="bold" text-anchor="middle" fill="#111" textLength="23.5" lengthAdjust="spacingAndGlyphs" stroke="#111" stroke-width="0.3">400</text>
<text x="487.50" y="558.00" font-size="15.40" font-weight="bold" text-anchor="middle" fill="#111" textLength="23.5" lengthAdjust="spacingAndGlyphs" stroke="#111" stroke-width="0.3">600</text>
<text x="540.50" y="558.00" font-size="15.40" font-weight="bold" text-anchor="middle" fill="#111" textLength="23.5" lengthAdjust="spacingAndGlyphs" stroke="#111" stroke-width="0.3">800</text>
<text x="593.50" y="558.00" font-size="15.40" font-weight="bold" text-anchor="middle" fill="#111" textLength="29.8" lengthAdjust="spacingAndGlyphs" stroke="#111" stroke-width="0.3">1000</text>
<text x="646.50" y="558.00" font-size="15.40" font-weight="bold" text-anchor="middle" fill="#111" textLength="29.8" lengthAdjust="spacingAndGlyphs" stroke="#111" stroke-width="0.3">1200</text>
<text x="699.50" y="558.00" font-size="15.40" font-weight="bold" text-anchor="middle" fill="#111" textLength="29.8" lengthAdjust="spacingAndGlyphs" stroke="#111" stroke-width="0.3">1400</text>
<text x="514.60" y="574.60" font-size="16.00" font-weight="bold" text-anchor="start" fill="#1a1a1a" textLength="122.8" lengthAdjust="spacingAndGlyphs">Wavelength (nm)</text>
<g transform="translate(396.8,441) rotate(-90)" fill="#111">
<text x="0.00" y="-0.60" font-size="19.00" font-weight="bold" text-anchor="start" fill="#111" textLength="5.3" lengthAdjust="spacingAndGlyphs">-</text>
<text x="6.00" y="0.00" font-size="16.50" font-weight="bold" text-anchor="start" fill="#111" textLength="8.6" lengthAdjust="spacingAndGlyphs">&#949;</text>
<text x="15.40" y="8.80" font-size="12.30" font-weight="normal" text-anchor="start" fill="#111" textLength="5.6" lengthAdjust="spacingAndGlyphs">1</text>
<text x="22.60" y="1.60" font-size="22.00" font-weight="normal" text-anchor="start" fill="#111" textLength="7.0" lengthAdjust="spacingAndGlyphs">/</text>
<text x="29.40" y="0.00" font-size="16.50" font-weight="bold" text-anchor="start" fill="#111" textLength="8.6" lengthAdjust="spacingAndGlyphs">&#949;</text>
<text x="38.80" y="8.80" font-size="12.30" font-weight="normal" text-anchor="start" fill="#111" textLength="6.4" lengthAdjust="spacingAndGlyphs">2</text>
</g>
<path d="M433.50,499.00 C435.85,496.43 442.68,487.63 447.60,483.60 C452.52,479.57 458.60,477.07 463.00,474.80 C467.40,472.53 470.33,471.43 474.00,470.00 C477.67,468.57 481.33,467.17 485.00,466.20 C488.67,465.23 492.33,464.70 496.00,464.20 C499.67,463.70 503.33,463.42 507.00,463.20 C510.67,462.98 514.33,462.80 518.00,462.90 C521.67,463.00 525.33,463.40 529.00,463.80 C532.67,464.20 536.50,464.80 540.00,465.30 C543.50,465.80 545.37,465.95 550.00,466.80 C554.63,467.65 561.67,469.17 567.80,470.40 C573.93,471.63 580.47,473.05 586.80,474.20 C593.13,475.35 599.47,476.32 605.80,477.30 C612.13,478.28 618.45,479.05 624.80,480.10 C631.15,481.15 637.55,482.50 643.90,483.60 C650.25,484.70 656.57,485.80 662.90,486.70 C669.23,487.60 675.57,488.15 681.90,489.00 C688.23,489.85 694.35,490.97 700.90,491.80 C707.45,492.63 716.85,493.50 721.20,494.00 C725.55,494.50 726.03,494.67 727.00,494.80" fill="none" stroke="#2f6fc6" stroke-width="2.2" stroke-dasharray="3.4,6.3"/>
<path d="M433.50,497.90 C434.75,496.25 437.92,491.48 441.00,488.00 C444.08,484.52 448.33,479.93 452.00,477.00 C455.67,474.07 459.33,472.42 463.00,470.40 C466.67,468.38 470.33,466.43 474.00,464.90 C477.67,463.37 481.33,462.18 485.00,461.20 C488.67,460.22 492.33,459.48 496.00,459.00 C499.67,458.52 503.33,458.38 507.00,458.30 C510.67,458.22 514.33,458.25 518.00,458.50 C521.67,458.75 525.33,459.35 529.00,459.80 C532.67,460.25 536.50,460.78 540.00,461.20 C543.50,461.62 545.17,461.60 550.00,462.30 C554.83,463.00 563.08,464.25 569.00,465.40 C574.92,466.55 580.22,468.15 585.50,469.20 C590.78,470.25 595.42,470.77 600.70,471.70 C605.98,472.63 611.70,473.83 617.20,474.80 C622.70,475.77 628.42,476.62 633.70,477.50 C638.98,478.38 643.62,479.28 648.90,480.10 C654.18,480.92 659.90,481.55 665.40,482.40 C670.90,483.25 676.62,484.40 681.90,485.20 C687.18,486.00 692.02,486.57 697.10,487.20 C702.18,487.83 707.17,488.40 712.40,489.00 C717.63,489.60 725.82,490.50 728.50,490.80" fill="none" stroke="#000" stroke-width="2.4" stroke-dasharray="9,6.5"/>
<path d="M433.50,523.20 C434.75,522.83 437.92,522.10 441.00,521.00 C444.08,519.90 448.33,518.07 452.00,516.60 C455.67,515.13 459.33,513.85 463.00,512.20 C466.67,510.55 470.33,508.90 474.00,506.70 C477.67,504.50 481.33,502.12 485.00,499.00 C488.67,495.88 492.33,492.22 496.00,488.00 C499.67,483.78 503.33,478.83 507.00,473.70 C510.67,468.57 514.33,462.88 518.00,457.20 C521.67,451.52 525.33,445.55 529.00,439.60 C532.67,433.65 536.05,427.50 540.00,421.50 C543.95,415.50 548.47,409.33 552.70,403.60 C556.93,397.87 561.18,392.18 565.40,387.10 C569.62,382.02 573.78,377.33 578.00,373.10 C582.22,368.87 586.47,365.00 590.70,361.70 C594.93,358.40 599.17,355.53 603.40,353.30 C607.63,351.07 611.87,349.57 616.10,348.30 C620.33,347.03 624.57,346.30 628.80,345.70 C633.03,345.10 637.27,344.87 641.50,344.70 C645.73,344.53 649.98,344.53 654.20,344.70 C658.42,344.87 662.58,345.28 666.80,345.70 C671.02,346.12 675.27,346.60 679.50,347.20 C683.73,347.80 687.97,348.57 692.20,349.30 C696.43,350.03 700.67,350.88 704.90,351.60 C709.13,352.32 714.05,352.98 717.60,353.60 C721.15,354.22 724.77,355.02 726.20,355.30" fill="none" stroke="#e41a14" stroke-width="1.8"/>
<path d="M450.1,315.1 H479.7" stroke="#e41a14" stroke-width="2"/>
<path d="M450,329.2 H462.8 M466.4,329.2 H476" stroke="#000" stroke-width="2.6"/>
<path d="M450.4,344.7 H453.8 M459.8,344.7 H463.2 M470,344.7 H473.4" stroke="#2f6fc6" stroke-width="2.2"/>
<text x="484.50" y="320.60" font-size="14.40" font-weight="bold" text-anchor="start" fill="#111" textLength="18.0" lengthAdjust="spacingAndGlyphs">Na</text>
<text x="484.50" y="334.30" font-size="14.40" font-weight="bold" text-anchor="start" fill="#111" textLength="127.4" lengthAdjust="spacingAndGlyphs">Ag (Ref. 23, 2015)</text>
<text x="484.50" y="347.80" font-size="14.40" font-weight="bold" text-anchor="start" fill="#111" textLength="127.4" lengthAdjust="spacingAndGlyphs">Ag (Ref. 24, 2018)</text>
<rect x="389.3" y="583.6" width="4.6" height="1.3" fill="#444"/>
</svg>
</body></html>
